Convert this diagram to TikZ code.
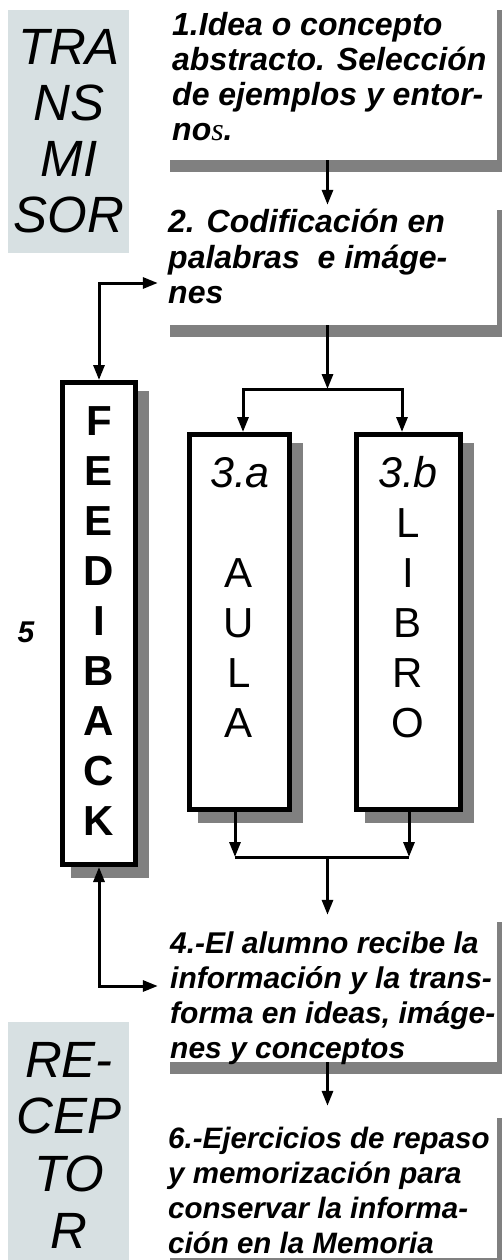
\documentclass[tikz,border=0pt]{standalone}
\usepackage{fontspec}
\setmainfont{Liberation Sans}
\newfontfamily\serifface{Liberation Serif}
\usetikzlibrary{arrows.meta,calc}
\pgfdeclarelayer{shadows}
\pgfsetlayers{shadows,main}
\definecolor{panelgray}{HTML}{D7E0E2}
\definecolor{shadowgray}{HTML}{808080}

\begin{document}
\begin{tikzpicture}[x=1pt,y=-1pt,
  stepbox/.style={draw=black, line width=5pt, fill=white, inner sep=0pt},
  notebox/.style={fill=white, draw=none, inner sep=0pt, minimum width=339pt},
  boxline/.style={anchor=base west, inner sep=0pt,
    font=\fontsize{30}{35}\selectfont\bfseries\itshape},
  wideline/.style={boxline, font=\fontsize{32}{35}\selectfont\bfseries\itshape},
  bigword/.style={anchor=base, inner sep=0pt,
    font=\fontsize{51}{56}\selectfont\itshape},
  letter/.style={anchor=base, inner sep=0pt,
    font=\fontsize{42}{50}\selectfont},
  conn/.style={line width=3pt, -{Triangle[length=15pt,width=11pt]}},
  plainline/.style={line width=3pt},
  bothway/.style={line width=3pt,
    {Triangle[length=15pt,width=11pt]}-{Triangle[length=15pt,width=11pt]}},
]
\useasboundingbox (0,0) rectangle (502,1260);

% side panels
\fill[panelgray] (8,10) rectangle (129,253);
\fill[panelgray] (8,1022) rectangle (129,1260);
\foreach \w/\y [count=\i] in {TRA/65,NS/121,MI/177,SOR/233}
  \node[bigword] (tx\i) at (69,\y) {\w};
\foreach \w/\y [count=\i] in {RE-/1077,CEP/1133,TO/1191,R/1248}
  \node[bigword] (rx\i) at (69,\y) {\w};

% text blocks with drop shadows
\node[notebox, minimum height=162pt] (b1) at (327.5,79) {};
\node[notebox, minimum height=127pt] (b2) at (327.5,261.5) {};
\node[notebox, minimum height=152pt] (b4) at (327.5,986) {};
\node[notebox, minimum height=152pt] (b6) at (327.5,1182) {};
\begin{pgfonlayer}{shadows}
  \foreach \n in {b1,b2,b4,b6}
    \fill[shadowgray] ($(\n.north west)+(12,12)$) rectangle ($(\n.south east)+(12,12)$);
\end{pgfonlayer}

\foreach \txt [count=\i] in {{1.Idea o concepto},{abstracto. Selección},
    {de ejemplos y entor-},{no{\serifface\mdseries\itshape s}.}}
  \node[wideline] (p1l\i) at (172,{1+35*\i}) {\txt};
\foreach \txt [count=\i] in {{2. Codificación en},{palabras\ \ e imáge-},{nes}}
  \node[wideline] (p2l\i) at (168,{198+35*\i}) {\txt};
\foreach \txt [count=\i] in {{4.-El alumno recibe la},{información y la trans-},
    {forma en ideas, imáge-},{nes y conceptos}}
  \node[boxline] (p4l\i) at (170,{918+35*\i}) {\txt};
\foreach \txt [count=\i] in {{6.-Ejercicios de repaso},{y memorización para},
    {conservar la informa-},{ción en la Memoria}}
  \node[boxline, font=\fontsize{29.5}{35}\selectfont\bfseries\itshape]
    (p6l\i) at (168,{1113+35*\i}) {\txt};

% framed columns
\node[stepbox, minimum width=73pt, minimum height=482pt] (fb) at (99,623.5) {};
\node[stepbox, minimum width=100pt, minimum height=375pt] (ca) at (239.5,622) {};
\node[stepbox, minimum width=104pt, minimum height=375pt] (cb) at (408.5,622) {};
\begin{pgfonlayer}{shadows}
  \foreach \n in {fb,ca,cb}
    \fill[shadowgray] ($(\n.north west)+(11,11)$) rectangle ($(\n.south east)+(11,11)$);
\end{pgfonlayer}

\foreach \c [count=\i] in {F,E,E,D,I,B,A,C,K}
  \node[letter, font=\fontsize{42}{50}\selectfont\bfseries] (fl\i) at (99,{385+50*\i}) {\c};
\node[letter, font=\fontsize{43}{50}\selectfont\itshape] (lab3a) at (240,487) {3.a};
\foreach \c [count=\i] in {A,U,L,A}
  \node[letter] (al\i) at (239,{537+50*\i}) {\c};
\node[letter, font=\fontsize{43}{50}\selectfont\itshape] (lab3b) at (408,487) {3.b};
\foreach \c [count=\i] in {L,I,B,R,O}
  \node[letter] (bl\i) at (408,{487+50*\i}) {\c};

\node[anchor=base, inner sep=0pt, font=\fontsize{30}{32}\selectfont\bfseries\itshape]
  (five) at (26,642) {5};

% connectors
\draw[conn] (b1.south) -- ($(b2.north)+(0,7)$);

\coordinate (split) at (327.5,389);
\coordinate (sl) at (243,389);
\coordinate (sr) at (402,389);
\draw[conn] (b2.south) -- (split);
\draw[plainline, line cap=rect] (sl) -- (sr);
\draw[conn] (sl) -- (sl |- ca.north);
\draw[conn] (sr) -- (sr |- cb.north);

\coordinate (jl) at (235,857);
\coordinate (jr) at (409,857);
\coordinate (jm) at (327.5,857);
\draw[conn] (jl |- ca.south) -- (jl);
\draw[conn] (jr |- cb.south) -- (jr);
\draw[plainline] (jl) -- (jr);
\draw[conn] (jm) -- ($(b4.north)+(0,5)$);

\draw[conn] (b4.south) -- (b6.north);

\coordinate (ftop) at (99,283);
\coordinate (fbot) at (99,986);
\draw[bothway] (fb.north) -- (ftop) -- (ftop -| b2.west);
\draw[bothway] (fb.south) -- (fbot) -- (fbot -| b4.west);
\end{tikzpicture}
\end{document}
